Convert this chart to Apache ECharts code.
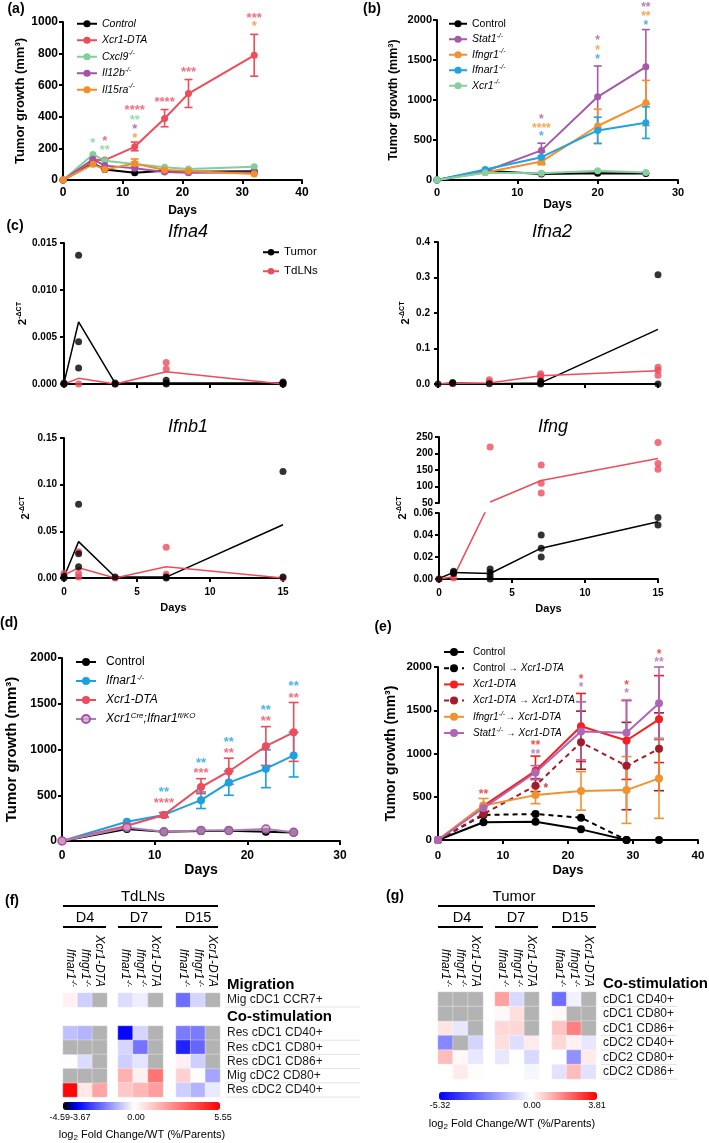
<!DOCTYPE html>
<html>
<head>
<meta charset="utf-8">
<title>Tumor growth, interferon expression and cDC activation</title>
<script src="https://cdn.jsdelivr.net/npm/echarts@6/dist/echarts.min.js"></script>
<style>
  html, body { margin: 0; padding: 0; background: #fff; }
  .layer { position: absolute; left: 0; top: 0; width: 709px; height: 1143px; }
</style>
</head>
<body>
<div id="a" class="layer"></div>
<div id="b" class="layer"></div>
<div id="c" class="layer"></div>
<div id="d" class="layer"></div>
<div id="e" class="layer"></div>
<div id="f" class="layer"></div>
<div id="g" class="layer"></div>
<script>
const FONT = '"Liberation Sans", Arial, sans-serif';

// ---------- (a) tumour growth, mm3 ----------
const aDays = [0, 5, 7, 12, 17, 21, 32];
const aControl = [0, 105, 67, 46, 59, 53, 55];
const aXcr1 = [0, 126, 126, 210, 389, 547, 789];
const aXcr1Err = [null, null, null, [185, 240], [337, 446], [459, 636], [657, 922]];
const aCxcl9 = [0, 162, 122, 101, 80, 69, 84];
const aCxcl9Err = [null, null, null, [88, 116], null, null, null];
const aIl12b = [0, 131, 91, 74, 51, 46, 48];
const aIl15ra = [0, 99, 67, 105, 63, 57, 38];
const aIl15raErr = [null, null, null, [80, 133], null, null, null];
const aStarsRed = [[7, 266, '*'], [12, 462, '****'], [17, 513, '****'], [21, 703, '***'], [32, 1044, '***']];
const aStarsGreen = [[5, 253, '*'], [7, 209, '**'], [12, 399, '**']];
const aStarsPurple = [[12, 342, '*']];
const aStarsOrange = [[12, 285, '*'], [32, 994, '*']];

// ---------- (b) ----------
const bDays = [0, 6, 13, 20, 26];
const bControl = [0, 115, 75, 85, 80];
const bStat1 = [0, 110, 370, 1040, 1415];
const bStat1Err = [null, null, [300, 460], [650, 1425], [950, 1880]];
const bIfngr1 = [0, 95, 230, 675, 965];
const bIfngr1Err = [null, null, [190, 270], [460, 885], [680, 1245]];
const bIfnar1 = [0, 130, 285, 620, 715];
const bIfnar1Err = [null, null, [210, 350], [455, 785], [520, 915]];
const bXcr1 = [0, 90, 85, 115, 95];
const bStarsPurple = [[13, 788, '*'], [20, 1775, '*'], [26, 2188, '**']];
const bStarsOrange = [[13, 675, '****'], [20, 1650, '*'], [26, 2075, '**']];
const bStarsBlue = [[13, 575, '*'], [20, 1538, '*'], [26, 1963, '*']];

// ---------- (c) 2^-dCT, tumour vs TdLNs ----------
const cDays = [0, 1, 3.5, 7, 15];
const ifna4TumorPts = [[0, 0.0001], [0, 0], [1, 0.0137], [1, 0.0045], [1, 0.0017], [3.5, 0], [3.5, 0.0001], [7, 0.0004], [7, 0.0001], [7, 0], [15, 0.0002], [15, 0.0001], [15, 0]];
const ifna4TumorMean = [0.0001, 0.0066, 0.0001, 0.0001, 0.0001];
const ifna4LnPts = [[0, 0], [1, 0], [3.5, 0], [7, 0.0023], [7, 0.0016], [15, 0]];
const ifna4LnMean = [0, 0.0006, 0, 0.0013, 0];
const ifna2TumorPts = [[0, 0], [1, 0.004], [1, 0.002], [3.5, 0.001], [7, 0.008], [7, 0.003], [7, 0], [15, 0.308], [15, 0]];
const ifna2TumorMean = [0, 0.003, 0.001, 0.003, 0.154];
const ifna2LnPts = [[1, 0.001], [3.5, 0.012], [3.5, 0.006], [7, 0.029], [7, 0.024], [7, 0.019], [15, 0.047], [15, 0.039], [15, 0.025]];
const ifna2LnMean = [0, 0.002, 0.003, 0.023, 0.037];
const ifnb1TumorPts = [[0, 0.002], [0, 0], [1, 0.079], [1, 0.026], [1, 0.012], [3.5, 0.001], [7, 0.001], [7, 0], [15, 0.114], [15, 0.001]];
const ifnb1TumorMean = [0.001, 0.039, 0.001, 0.001, 0.057];
const ifnb1LnPts = [[0, 0.005], [1, 0.028], [1, 0.005], [1, 0.001], [3.5, 0], [7, 0.033], [7, 0.004], [15, 0]];
const ifnb1LnMean = [0.003, 0.011, 0, 0.012, 0];
const ifngTumorPts = [[0, 0], [1, 0.007], [1, 0.006], [1, 0.005], [3.5, 0.009], [3.5, 0.006], [3.5, 0.003], [3.5, 0], [7, 0.040], [7, 0.028], [7, 0.020], [15, 0.056], [15, 0.049]];
const ifngTumorMean = [0.0005, 0.006, 0.005, 0.028, 0.052];
const ifngLnPtsHigh = [[3.5, 220], [7, 165], [7, 110], [7, 80], [15, 233], [15, 170], [15, 152]];
const ifngLnPtsLow = [[0, 0], [1, 0.001]];
const ifngHighDays = [3.5, 7, 15];
const ifngLnMeanHigh = [53, 118, 185];
const ifngLowDays = [0, 1, 3.5];
const ifngLnMeanLow = [0, 0.002, 0.07]; // last value: where the mean line runs through the axis break

// ---------- (d) ----------
const dDays = [0, 7, 11, 15, 18, 22, 25];
const dControl = [0, 130, 100, 110, 112, 100, 93];
const dIfnar1 = [0, 211, 285, 446, 638, 790, 935];
const dIfnar1Err = [null, null, [258, 312], [355, 536], [500, 764], [583, 996], [700, 1188]];
const dXcr1 = [0, 167, 285, 590, 760, 1036, 1188];
const dXcr1Err = [null, null, [262, 308], [518, 681], [620, 905], [826, 1250], [870, 1514]];
const dCondKO = [0, 148, 100, 115, 115, 130, 95];
const dStarsBlue = [[11, 568, '**'], [15, 885, '**'], [18, 1115, '**'], [22, 1464, '**'], [25, 1727, '**']];
const dStarsRed = [[11, 448, '****'], [15, 776, '***'], [18, 995, '**'], [22, 1344, '**'], [25, 1596, '**']];

// ---------- (e) ----------
const eDays = [0, 7, 15, 22, 29, 34];
const eControl = [0, 205, 212, 123, 0, 0];
const eCtrlToX = [0, 290, 300, 258, 0];
const eXcr1 = [0, 395, 800, 1315, 1150, 1395];
const eXcr1Err = [null, null, [710, 970], [907, 1694], [700, 1616], [895, 1900]];
const eXToX = [0, 300, 628, 1130, 857, 1054];
const eXToXErr = [null, null, [560, 700], [818, 1490], [350, 1360], [570, 1470]];
const eIfngr1ToX = [0, 400, 519, 566, 577, 712];
const eIfngr1ToXErr = [null, [330, 480], [420, 620], [345, 790], [192, 965], [250, 1178]];
const eStat1ToX = [0, 370, 780, 1255, 1240, 1580];
const eStat1ToXErr = [null, null, [700, 860], [926, 1597], [870, 1610], [1160, 2000]];
const eStarsRed = [[7, 555, '**'], [15, 1121, '**'], [22, 1884, '*'], [29, 1815, '*'], [34, 2173, '*']];
const eStarsPurple = [[15, 1017, '**'], [22, 1792, '*'], [29, 1723, '*'], [34, 2081, '**']];
const eStarsDark = [[16.6, 624, '*']];

// ---------- (f) / (g) heatmaps, log2 fold change, null = not measured ----------
const hmCols = ['Ifnar1-/-', 'Ifngr1-/-', 'Xcr1-DTA'];
const fMigRows = ['Mig cDC1 CCR7+'];
const fCoRows = ['Res cDC1 CD40+', 'Res cDC1 CD80+', 'Res cDC1 CD86+', 'Mig cDC2 CD80+', 'Res cDC2 CD40+'];
const fMigD4 = [[0.3, -0.7, null]];
const fMigD7 = [[-0.5, -0.25, null]];
const fMigD15 = [[-2.1, -0.6, null]];
const fCoD4 = [[-0.9, -1.1, null], [null, null, null], [0, -0.5, null], [null, null, null], [5.4, 0.5, 2.0]];
const fCoD7 = [[-3.6, -0.6, null], [-0.6, -2.0, null], [-0.7, -0.4, null], [1.7, 0.3, 3.0], [1.2, 1.6, 2.1]];
const fCoD15 = [[-1.9, -1.9, null], [-3.2, -2.2, null], [0.3, -0.7, null], [1.0, 0, -1.3], [-0.7, -1.1, -0.3]];
const gRows = ['cDC1 CD40+', 'cDC1 CD80+', 'cDC1 CD86+', 'cDC2 CD40+', 'cDC2 CD80+', 'cDC2 CD86+'];
const gD4 = [[null, null, null], [null, null, null], [0.4, -0.5, null], [-2.5, null, -0.9], [1.0, 0.1, -0.5], [0, 0.3, 0.05]];
const gD7 = [[1.4, -0.8, null], [0.1, 0.5, null], [0.6, 0.6, null], [0.5, -0.7, 0.3], [-0.5, 0, -0.8], [0, 0, -0.2]];
const gD15 = [[-3.0, -0.3, null], [0.1, null, null], [0.9, 1.9, null], [0.6, 0.2, -0.5], [0, -2.3, 0.3], [-0.6, 1.0, -0.6]];

// ---------- helpers ----------
function rich(size) {
  const lh = size + 3;
  return {
    n: { fontFamily: FONT, fontSize: size, lineHeight: lh, color: '#000' },
    i: { fontFamily: FONT, fontSize: size, lineHeight: lh, fontStyle: 'italic', color: '#000' },
    s: { fontFamily: FONT, fontSize: Math.round(size * 0.65), lineHeight: Math.round(size * 0.65) + 1, fontStyle: 'italic', verticalAlign: 'top', color: '#000' },
    b: { fontFamily: FONT, fontSize: size, lineHeight: lh, fontWeight: 'bold', color: '#000' },
    bs: { fontFamily: FONT, fontSize: Math.round(size * 0.65), lineHeight: Math.round(size * 0.65) + 1, fontWeight: 'bold', verticalAlign: 'top', color: '#000' },
    sub: { fontFamily: FONT, fontSize: Math.round(size * 0.7), lineHeight: lh, verticalAlign: 'bottom', color: '#000', padding: [4, 0, 0, 0] }
  };
}

function txt(x, y, text, size, opt) {
  opt = opt || {};
  const font = (opt.italic ? 'italic ' : '') + (opt.bold ? 'bold ' : '') + size + 'px ' + FONT;
  const align = opt.align || 'center';
  return {
    type: 'text', x: x, y: y, rotation: opt.rot || 0, silent: true, z: 10,
    style: { text: text, x: 0, y: 0, font: font, fill: opt.color || '#000', align: align, verticalAlign: 'middle',
      textAlign: align, textVerticalAlign: 'middle', rich: opt.rich }
  };
}

function seg(x1, y1, x2, y2, color, w) {
  return { type: 'line', silent: true, shape: { x1: x1, y1: y1, x2: x2, y2: y2 }, style: { stroke: color, lineWidth: w } };
}

function valueAxis(o) {
  return {
    type: 'value', gridIndex: o.grid || 0, min: o.min, max: o.max, interval: o.interval,
    show: o.show !== false,
    axisLine: { show: true, onZero: false, lineStyle: { color: '#000', width: o.lw || 2 } },
    axisTick: { show: true, length: 4, lineStyle: { color: '#000', width: o.lw || 2 } },
    axisLabel: { show: o.labels !== false, color: '#000', fontWeight: 'bold', fontSize: o.size, fontFamily: FONT,
      margin: o.margin, formatter: o.fmt || (v => String(v)) },
    splitLine: { show: false },
    name: o.name, nameLocation: 'middle', nameGap: o.nameGap, nameRotate: o.nameRotate || 0,
    nameTextStyle: { color: '#000', fontWeight: 'bold', fontSize: o.nameSize, fontFamily: FONT, rich: o.rich }
  };
}

function errorBars(days, err, color, w) {
  const data = [];
  err.forEach((e, i) => { if (e) data.push([days[i], e[0], e[1]]); });
  return {
    type: 'custom', z: 2, silent: true, data: data,
    encode: { x: 0, y: [1, 2] },
    renderItem: function (params, api) {
      const x = api.value(0);
      const lo = api.coord([x, api.value(1)]);
      const hi = api.coord([x, api.value(2)]);
      const st = { stroke: color, lineWidth: 1.6 };
      return { type: 'group', children: [
        { type: 'line', shape: { x1: lo[0], y1: lo[1], x2: hi[0], y2: hi[1] }, style: st },
        { type: 'line', shape: { x1: lo[0] - w, y1: lo[1], x2: lo[0] + w, y2: lo[1] }, style: st },
        { type: 'line', shape: { x1: hi[0] - w, y1: hi[1], x2: hi[0] + w, y2: hi[1] }, style: st }
      ] };
    }
  };
}

function stars(pts, color, size) {
  return {
    type: 'scatter', z: 4, silent: true, clip: false, symbolSize: 1,
    itemStyle: { color: 'rgba(0,0,0,0)' },
    data: pts.map(p => ({ value: [p[0], p[1]], name: p[2] })),
    label: { show: true, position: 'inside', offset: [0, 3], color: color, fontSize: size, fontWeight: 'bold',
      fontFamily: FONT, formatter: '{b}' }
  };
}

function growthChart(id, c) {
  const chart = echarts.init(document.getElementById(id));
  const series = [];
  c.lines.forEach(l => {
    series.push({
      name: l.name, type: 'line', z: 3,
      data: l.values.map((v, i) => [c.days[i], v]),
      symbol: 'circle', symbolSize: c.symbolSize,
      lineStyle: { color: l.color, width: 2, type: l.dashed ? [5, 4] : 'solid' },
      itemStyle: l.item || { color: l.color }
    });
    if (l.err) series.push(errorBars(c.days, l.err, l.color, c.cap));
  });
  c.stars.forEach(s => series.push(stars(s.pts, s.color, c.starSize)));
  const L = c.legend;
  chart.setOption({
    animation: false,
    grid: Object.assign({ outerBoundsMode: 'none' }, c.grid),
    xAxis: valueAxis({ min: 0, max: c.xMax, interval: 10, size: c.tick, margin: c.xMargin,
      name: 'Days', nameGap: c.xNameGap, nameSize: c.nameSize }),
    yAxis: valueAxis({ min: 0, max: c.yMax, interval: c.yInterval, size: c.tick, margin: c.yMargin,
      name: 'Tumor growth (mm³)', nameGap: c.yNameGap, nameSize: c.yNameSize, nameRotate: 90 }),
    legend: {
      data: c.lines.map(l => l.name), orient: 'vertical', left: L.left, top: L.top, padding: 0,
      itemWidth: L.w, itemHeight: L.h, itemGap: L.gap, selectedMode: false,
      textStyle: { fontSize: L.size, lineHeight: L.size + 3, fontFamily: FONT, color: '#000',
        padding: [0, 0, 0, L.pad || 0], rich: rich(L.size) },
      formatter: n => L.labels[n]
    },
    graphic: [txt(c.letter[0], c.letter[1], c.letter[2], 14, { bold: true })],
    series: series
  });
}

// ---------- (a) ----------
growthChart('a', {
  days: aDays, grid: { left: 63, top: 22, width: 239, height: 158 },
  xMax: 40, yMax: 1000, yInterval: 200, tick: 12, xMargin: 7, yMargin: 5,
  xNameGap: 25, nameSize: 12, yNameGap: 35, yNameSize: 13, symbolSize: 7, cap: 4, starSize: 13,
  letter: [16, 9, '(a)'],
  lines: [
    { name: 'Control', values: aControl, color: '#000000' },
    { name: 'Xcr1-DTA', values: aXcr1, err: aXcr1Err, color: '#ee4c5a' },
    { name: 'Cxcl9-/-', values: aCxcl9, err: aCxcl9Err, color: '#80cf9c' },
    { name: 'Il12b-/-', values: aIl12b, color: '#a453a9' },
    { name: 'Il15ra-/-', values: aIl15ra, err: aIl15raErr, color: '#f68c25' }
  ],
  stars: [
    { pts: aStarsRed, color: '#ee4c5a' }, { pts: aStarsGreen, color: '#80cf9c' },
    { pts: aStarsPurple, color: '#a453a9' }, { pts: aStarsOrange, color: '#f68c25' }
  ],
  legend: { left: 76, top: 17, w: 20, h: 9, gap: 3, size: 10.5, labels: {
    'Control': '{i|Control}', 'Xcr1-DTA': '{i|Xcr1-DTA}', 'Cxcl9-/-': '{i|Cxcl9}{s|-/-}',
    'Il12b-/-': '{i|Il12b}{s|-/-}', 'Il15ra-/-': '{i|Il15ra}{s|-/-}' } }
});

// ---------- (b) ----------
growthChart('b', {
  days: bDays, grid: { left: 437, top: 20, width: 241, height: 160 },
  xMax: 30, yMax: 2000, yInterval: 500, tick: 11, xMargin: 7, yMargin: 5,
  xNameGap: 15, nameSize: 12, yNameGap: 37, yNameSize: 12.5, symbolSize: 7, cap: 4, starSize: 12,
  letter: [372, 9, '(b)'],
  lines: [
    { name: 'Control', values: bControl, color: '#000000' },
    { name: 'Stat1-/-', values: bStat1, err: bStat1Err, color: '#a55aa8' },
    { name: 'Ifngr1-/-', values: bIfngr1, err: bIfngr1Err, color: '#f7902a' },
    { name: 'Ifnar1-/-', values: bIfnar1, err: bIfnar1Err, color: '#1ea4e0' },
    { name: 'Xcr1-/-', values: bXcr1, color: '#86d0a0' }
  ],
  stars: [
    { pts: bStarsPurple, color: '#a55aa8' }, { pts: bStarsOrange, color: '#f7902a' }, { pts: bStarsBlue, color: '#1ea4e0' }
  ],
  legend: { left: 448, top: 17, w: 18, h: 9, gap: 2, size: 10.5, labels: {
    'Control': '{n|Control}', 'Stat1-/-': '{i|Stat1}{s|-/-}', 'Ifngr1-/-': '{i|Ifngr1}{s|-/-}',
    'Ifnar1-/-': '{i|Ifnar1}{s|-/-}', 'Xcr1-/-': '{i|Xcr1}{s|-/-}' } }
});

// ---------- (c) ----------
(function () {
  const chart = echarts.init(document.getElementById('c'));
  const RED = '#ee4c5a';
  const grids = [
    { left: 64, top: 243, width: 219, height: 141 },
    { left: 438, top: 242, width: 220, height: 142 },
    { left: 64, top: 438, width: 219, height: 140 },
    { left: 439, top: 437, width: 219, height: 66 },
    { left: 439, top: 513, width: 219, height: 66 }
  ].map(g => Object.assign({ outerBoundsMode: 'none' }, g));
  const dct = '{b|2}{bs|-ΔCT}';
  const xAxis = grids.map((g, i) => valueAxis({
    grid: i, min: 0, max: 15, interval: 5, size: 10, margin: 9, show: i !== 3, labels: i === 2 || i === 4,
    name: (i === 2 || i === 4) ? 'Days' : '', nameGap: 24, nameSize: 11
  }));
  const yAxis = [
    valueAxis({ grid: 0, min: 0, max: 0.015, interval: 0.005, size: 10, margin: 7, fmt: v => v.toFixed(3),
      name: dct, nameRotate: 90, nameGap: 31, rich: rich(11) }),
    valueAxis({ grid: 1, min: 0, max: 0.4, interval: 0.1, size: 10, margin: 8, fmt: v => v.toFixed(1),
      name: dct, nameRotate: 90, nameGap: 25, rich: rich(11) }),
    valueAxis({ grid: 2, min: 0, max: 0.15, interval: 0.05, size: 10, margin: 7, fmt: v => v.toFixed(2),
      name: dct, nameRotate: 90, nameGap: 31, rich: rich(11) }),
    valueAxis({ grid: 3, min: 50, max: 250, interval: 50, size: 10, margin: 6, fmt: v => String(v) }),
    valueAxis({ grid: 4, min: 0, max: 0.06, interval: 0.02, size: 10, margin: 6, fmt: v => v.toFixed(2) })
  ];
  const series = [];
  function mean(gi, name, days, vals, color) {
    series.push({ name: name, type: 'line', xAxisIndex: gi, yAxisIndex: gi, z: 2, symbol: 'circle', showSymbol: false,
      data: vals.map((v, i) => [days[i], v]), lineStyle: { color: color, width: 1.5 }, itemStyle: { color: color } });
  }
  function pts(gi, data, color) {
    series.push({ type: 'scatter', xAxisIndex: gi, yAxisIndex: gi, z: 3, clip: false, symbolSize: 7,
      data: data, itemStyle: { color: color } });
  }
  mean(0, 'Tumor', cDays, ifna4TumorMean, '#000'); mean(0, 'TdLNs', cDays, ifna4LnMean, RED);
  pts(0, ifna4LnPts, RED); pts(0, ifna4TumorPts, '#000');
  mean(1, 'Tumor', cDays, ifna2TumorMean, '#000'); mean(1, 'TdLNs', cDays, ifna2LnMean, RED);
  pts(1, ifna2LnPts, RED); pts(1, ifna2TumorPts, '#000');
  mean(2, 'Tumor', cDays, ifnb1TumorMean, '#000'); mean(2, 'TdLNs', cDays, ifnb1LnMean, RED);
  pts(2, ifnb1LnPts, RED); pts(2, ifnb1TumorPts, '#000');
  mean(3, 'TdLNs', ifngHighDays, ifngLnMeanHigh, RED); pts(3, ifngLnPtsHigh, RED);
  mean(4, 'Tumor', cDays, ifngTumorMean, '#000'); mean(4, 'TdLNs', ifngLowDays, ifngLnMeanLow, RED);
  pts(4, ifngLnPtsLow, RED); pts(4, ifngTumorPts, '#000');

  chart.setOption({
    animation: false,
    grid: grids, xAxis: xAxis, yAxis: yAxis, series: series,
    legend: {
      data: ['Tumor', 'TdLNs'], orient: 'vertical', left: 262, top: 245, padding: 0,
      itemWidth: 16, itemHeight: 8, itemGap: 4.5, selectedMode: false,
      textStyle: { fontSize: 11.5, lineHeight: 14.5, fontFamily: FONT, color: '#000' }
    },
    graphic: [
      txt(15, 226, '(c)', 14, { bold: true }),
      txt(188, 232, 'Ifna4', 18, { italic: true }),
      txt(552, 232, 'Ifna2', 18, { italic: true }),
      txt(188, 427, 'Ifnb1', 18, { italic: true }),
      txt(553, 427, 'Ifng', 18, { italic: true }),
      txt(403, 508, dct, 11, { rot: Math.PI / 2, rich: rich(11) })
    ]
  });
})();

// ---------- (d) ----------
growthChart('d', {
  days: dDays, grid: { left: 62, top: 658, width: 278, height: 183 },
  xMax: 30, yMax: 2000, yInterval: 500, tick: 12, xMargin: 9, yMargin: 5,
  xNameGap: 19, nameSize: 14, yNameGap: 43, yNameSize: 15, symbolSize: 8, cap: 5, starSize: 13,
  letter: [9, 623, '(d)'],
  lines: [
    { name: 'Control', values: dControl, color: '#000000' },
    { name: 'Ifnar1-/-', values: dIfnar1, err: dIfnar1Err, color: '#1ba1e2' },
    { name: 'Xcr1-DTA', values: dXcr1, err: dXcr1Err, color: '#ee4b5b' },
    { name: 'Xcr1Cre;Ifnar1fl/KO', values: dCondKO, color: '#b07ab6',
      item: { color: 'rgba(214,170,214,0.75)', borderColor: '#a052a8', borderWidth: 1.5 } }
  ],
  stars: [{ pts: dStarsBlue, color: '#1ba1e2' }, { pts: dStarsRed, color: '#ee4b5b' }],
  legend: { left: 75, top: 654.5, w: 20, h: 10, gap: 4, size: 12, pad: 5, labels: {
    'Control': '{n|Control}', 'Ifnar1-/-': '{i|Ifnar1}{s|-/-}', 'Xcr1-DTA': '{i|Xcr1-DTA}',
    'Xcr1Cre;Ifnar1fl/KO': '{i|Xcr1}{s|Cre}{i|;Ifnar1}{s|fl/KO}' } }
});

// ---------- (e) ----------
growthChart('e', {
  days: eDays, grid: { left: 438, top: 667, width: 260, height: 173 },
  xMax: 40, yMax: 2000, yInterval: 500, tick: 11.5, xMargin: 10, yMargin: 6,
  xNameGap: 24, nameSize: 13, yNameGap: 40, yNameSize: 14, symbolSize: 8, cap: 5, starSize: 12,
  letter: [383, 627, '(e)'],
  lines: [
    { name: 'Control', values: eControl, color: '#000000' },
    { name: 'Control → Xcr1-DTA', values: eCtrlToX, color: '#000000', dashed: true },
    { name: 'Xcr1-DTA', values: eXcr1, err: eXcr1Err, color: '#f91e1e' },
    { name: 'Xcr1-DTA → Xcr1-DTA', values: eXToX, err: eXToXErr, color: '#a21d2c', dashed: true },
    { name: 'Ifngr1-/- → Xcr1-DTA', values: eIfngr1ToX, err: eIfngr1ToXErr, color: '#f0932f' },
    { name: 'Stat1-/- → Xcr1-DTA', values: eStat1ToX, err: eStat1ToXErr, color: '#b066b6' }
  ],
  stars: [{ pts: eStarsRed, color: '#f91e1e' }, { pts: eStarsPurple, color: '#b066b6' }, { pts: eStarsDark, color: '#a21d2c' }],
  legend: { left: 443, top: 645.5, w: 20, h: 10, gap: 3.2, size: 10, pad: 4, labels: {
    'Control': '{n|Control}',
    'Control → Xcr1-DTA': '{n|Control → }{i|Xcr1-DTA}',
    'Xcr1-DTA': '{i|Xcr1-DTA}',
    'Xcr1-DTA → Xcr1-DTA': '{i|Xcr1-DTA}{n| → }{i|Xcr1-DTA}',
    'Ifngr1-/- → Xcr1-DTA': '{i|Ifngr1}{s|-/-}{n|→ }{i|Xcr1-DTA}',
    'Stat1-/- → Xcr1-DTA': '{i|Stat1}{s|-/-}{n| → }{i|Xcr1-DTA}' } }
});

// ---------- heatmaps ----------
function ramp(stops, n) {
  const min = stops[0][0], max = stops[stops.length - 1][0];
  const out = [];
  for (let k = 0; k < n; k++) {
    const v = min + (max - min) * k / (n - 1);
    let j = 0;
    while (j < stops.length - 2 && v > stops[j + 1][0]) j++;
    const t = Math.min(1, Math.max(0, (v - stops[j][0]) / (stops[j + 1][0] - stops[j][0])));
    const c = stops[j][1].map((a, m) => Math.round(a + (stops[j + 1][1][m] - a) * t));
    out.push('rgb(' + c.join(',') + ')');
  }
  return out;
}

function colLabel(v) {
  return v.endsWith('-/-') ? '{i|' + v.slice(0, -3) + '}{s|-/-}' : '{i|' + v + '}';
}

function heatPanel(id, p) {
  const chart = echarts.init(document.getElementById(id));
  const grid = [], xAxis = [], yAxis = [], series = [], valIdx = [], naIdx = [];
  p.blocks.forEach((b, bi) => {
    p.groups.forEach((g, gi) => {
      const k = grid.length;
      grid.push({ left: g.left, top: b.top, width: g.width, height: b.height, outerBoundsMode: 'none' });
      xAxis.push({ type: 'category', gridIndex: k, data: hmCols, position: 'top',
        axisLine: { show: false }, axisTick: { show: false }, splitLine: { show: false },
        axisLabel: { show: bi === 0, interval: 0, rotate: 90, margin: p.colMargin, formatter: colLabel, rich: rich(12) } });
      yAxis.push({ type: 'category', gridIndex: k, data: b.rows, inverse: true, position: 'right',
        axisLine: { show: false }, axisTick: { show: false }, splitLine: { show: false },
        axisLabel: { show: gi === p.groups.length - 1, interval: 0, margin: 7, fontSize: 12, color: '#1a1a1a', fontFamily: FONT } });
      const vals = [], nas = [];
      b.values[gi].forEach((row, r) => row.forEach((v, c) => {
        if (v === null) nas.push([c, r, 0]); else vals.push([c, r, v]);
      }));
      const cell = { borderColor: 'rgba(255,255,255,0.55)', borderWidth: 0.6 };
      valIdx.push(series.length);
      series.push({ type: 'heatmap', xAxisIndex: k, yAxisIndex: k, data: vals, itemStyle: cell, silent: true });
      naIdx.push(series.length);
      series.push({ type: 'heatmap', xAxisIndex: k, yAxisIndex: k, data: nas, itemStyle: cell, silent: true });
    });
  });
  const sep = [];
  p.blocks.forEach(b => b.rows.forEach((r, i) => {
    const y = b.top + (i + 1) * b.height / b.rows.length;
    sep.push(seg(p.sepX[0], y, p.sepX[1], y, '#e4e4e4', 1));
  }));
  chart.setOption({
    animation: false, grid: grid, xAxis: xAxis, yAxis: yAxis, series: series,
    visualMap: [
      { type: 'continuous', seriesIndex: valIdx, min: p.min, max: p.max, inRange: { color: ramp(p.stops, 61) },
        orient: 'horizontal', left: p.bar[0], top: p.bar[1], itemWidth: 8, itemHeight: p.bar[2],
        calculable: false, padding: 0, hoverLink: false },
      { type: 'continuous', show: false, seriesIndex: naIdx, min: 0, max: 1, inRange: { color: ['#b3b3b3', '#b3b3b3'] } }
    ],
    graphic: sep.concat(p.graphic)
  });
}

const HEAD = '#000';
heatPanel('f', {
  min: -4.59, max: 5.55,
  stops: [[-4.59, [0, 0, 0]], [-3.67, [0, 0, 255]], [0, [255, 255, 255]], [5.55, [255, 0, 0]]],
  groups: [{ left: 63, width: 44 }, { left: 118, width: 45 }, { left: 176, width: 44 }],
  blocks: [
    { top: 993, height: 14, rows: fMigRows, values: [fMigD4, fMigD7, fMigD15] },
    { top: 1026, height: 71, rows: fCoRows, values: [fCoD4, fCoD7, fCoD15] }
  ],
  colMargin: 6, sepX: [225, 360], bar: [63, 1102, 157],
  graphic: [
    txt(12, 901, '(f)', 14, { bold: true }),
    txt(143, 897, 'TdLNs', 15), seg(63, 906, 218, 906, HEAD, 2),
    txt(85, 918, 'D4', 14.5), seg(63, 927, 106, 927, HEAD, 2),
    txt(139, 918, 'D7', 14.5), seg(118, 927, 162, 927, HEAD, 2),
    txt(198, 918, 'D15', 14.5), seg(176, 927, 218, 927, HEAD, 2),
    txt(227, 985, 'Migration', 15, { bold: true, align: 'left' }),
    txt(227, 1017, 'Co-stimulation', 15, { bold: true, align: 'left' }),
    txt(70, 1118, '-4.59-3.67', 9), txt(136, 1118, '0.00', 9), txt(223, 1118, '5.55', 9),
    txt(142, 1135, '{n|log}{sub|2}{n| Fold Change/WT (%/Parents)}', 11, { rich: rich(11) })
  ]
});

heatPanel('g', {
  min: -5.32, max: 3.81,
  stops: [[-5.32, [0, 0, 255]], [0, [255, 255, 255]], [3.81, [255, 0, 0]]],
  groups: [{ left: 438, width: 45 }, { left: 495, width: 44 }, { left: 552, width: 44 }],
  blocks: [{ top: 992, height: 87, rows: gRows, values: [gD4, gD7, gD15] }],
  colMargin: 5, sepX: [601, 677], bar: [439, 1092, 158],
  graphic: [
    txt(395, 896, '(g)', 14, { bold: true }),
    txt(514, 897, 'Tumor', 15), seg(438, 906, 595, 906, HEAD, 2),
    txt(462, 918, 'D4', 14.5), seg(438, 927, 483, 927, HEAD, 2),
    txt(516, 918, 'D7', 14.5), seg(495, 927, 538, 927, HEAD, 2),
    txt(575, 918, 'D15', 14.5), seg(552, 927, 596, 927, HEAD, 2),
    txt(603, 984, 'Co-stimulation', 15, { bold: true, align: 'left' }),
    txt(440, 1106, '-5.32', 9), txt(532, 1106, '0.00', 9), txt(597, 1106, '3.81', 9),
    txt(512, 1124, '{n|log}{sub|2}{n| Fold Change/WT (%/Parents)}', 11, { rich: rich(11) })
  ]
});
</script>
</body>
</html>
